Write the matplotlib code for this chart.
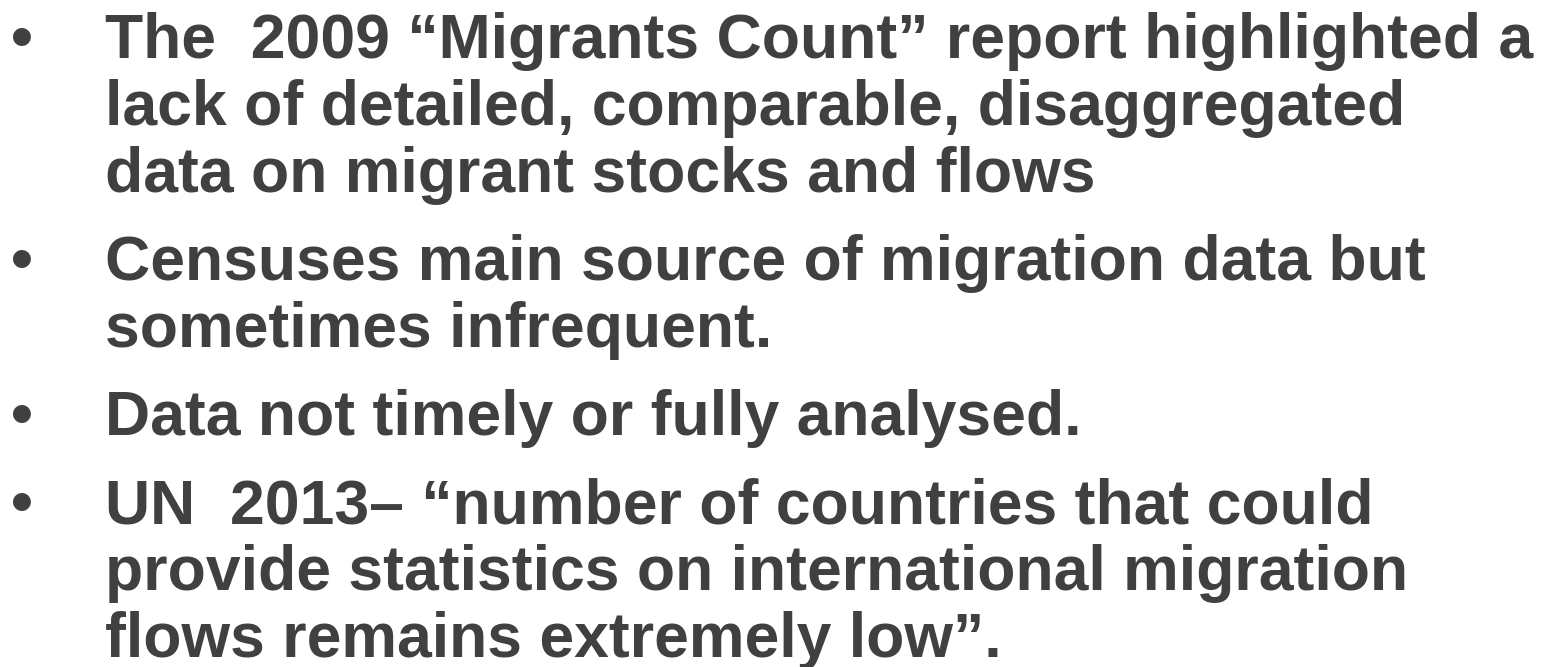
import matplotlib.pyplot as plt

#----------------
# Texto del slide
#----------------
bullets = [
    ["The  2009 \u201cMigrants Count\u201d report highlighted a",
     "lack of detailed, comparable, disaggregated",
     "data on migrant stocks and flows"],
    ["Censuses main source of migration data but",
     "sometimes infrequent."],
    ["Data not timely or fully analysed."],
    ["UN  2013\u2013 \u201cnumber of countries that could",
     "provide statistics on international migration",
     "flows remains extremely low\u201d."],
]

# baselines (px desde arriba) de la primera linea de cada punto
first_baselines = [58, 280, 435, 523]
line_step = 67

color = "#404040"
fsize = 45

fig = plt.figure(figsize=(15.47, 6.67), dpi=100)
ax = fig.add_axes([0, 0, 1, 1])
ax.set_xlim(0, 1547)
ax.set_ylim(667, 0)
ax.axis("off")

for lines, y0 in zip(bullets, first_baselines):
    ax.text(11, y0, "\u2022", fontsize=fsize, color=color, family="Liberation Sans",
            fontweight="bold", va="baseline", ha="left")
    for i, line in enumerate(lines):
        ax.text(105, y0 + i * line_step, line, fontsize=fsize, color=color,
                family="Liberation Sans", fontweight="bold", va="baseline", ha="left")

fig.savefig("out.png", dpi=100, facecolor="white")
